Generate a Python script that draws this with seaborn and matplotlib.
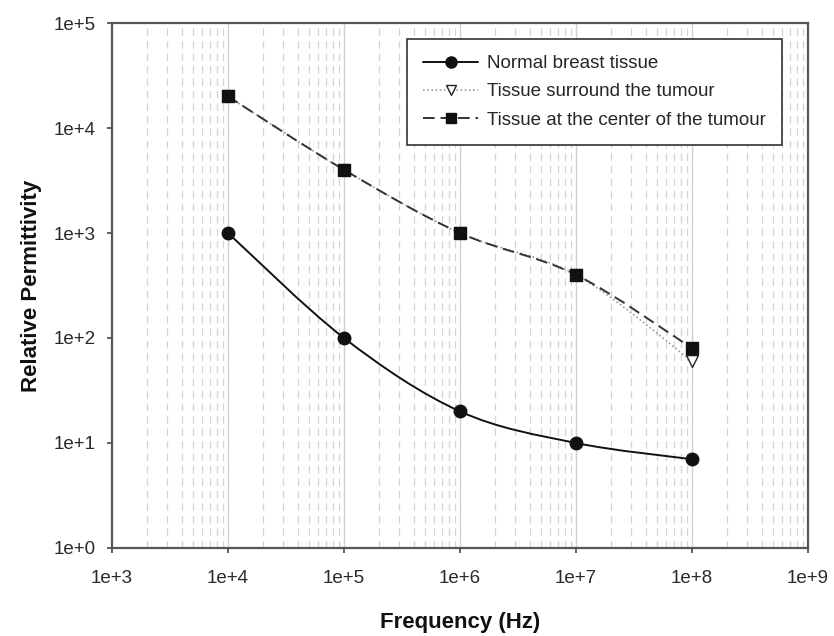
import numpy as np
import pandas as pd
import seaborn as sns
import matplotlib
matplotlib.use("Agg")
import matplotlib.pyplot as plt
from matplotlib.path import Path
from matplotlib.patches import PathPatch
from matplotlib.lines import Line2D
from matplotlib.ticker import FixedLocator

# Measured relative permittivity of breast tissue vs frequency
frequency_hz = [1e4, 1e5, 1e6, 1e7, 1e8]
normal_tissue = [1000, 100, 20, 10, 7]
surround_tumour = [20000, 4000, 1000, 400, 60]
center_tumour = [20000, 4000, 1000, 400, 80]

series_names = ["Normal breast tissue",
                "Tissue surround the tumour",
                "Tissue at the center of the tumour"]
x_ticks = [1e3, 1e4, 1e5, 1e6, 1e7, 1e8, 1e9]
x_tick_labels = ["1e+3", "1e+4", "1e+5", "1e+6", "1e+7", "1e+8", "1e+9"]
y_ticks = [1e0, 1e1, 1e2, 1e3, 1e4, 1e5]
y_tick_labels = ["1e+0", "1e+1", "1e+2", "1e+3", "1e+4", "1e+5"]

sns.set_theme(style="white")
plt.rcParams["font.family"] = ["Liberation Sans", "DejaVu Sans"]

df = pd.DataFrame({
    "Frequency": frequency_hz * 3,
    "Permittivity": normal_tissue + surround_tumour + center_tumour,
    "Series": sum([[n] * len(frequency_hz) for n in series_names], []),
})

styles = {
    series_names[0]: dict(color="#111111", ls="-", lw=1.4, marker="o",
                          mfc="#111111", mec="#111111", ms=9),
    series_names[1]: dict(color="#9a9a9a", ls=(0, (1, 1.5)), lw=1.2, marker="v",
                          mfc="white", mec="#222222", ms=8.5),
    series_names[2]: dict(color="#333333", ls=(0, (6, 3)), lw=1.4, marker="s",
                          mfc="#111111", mec="#111111", ms=8.5),
}

fig = plt.figure(figsize=(8.34, 6.36), dpi=100)
ax = fig.add_axes([0.1343, 0.1384, 0.9688 - 0.1343, 0.9638 - 0.1384])
ax.set_xscale("log")
ax.set_yscale("log")
ax.set_xlim(1e3, 1e9)
ax.set_ylim(1e0, 1e5)

# vertical grid: solid at decades, dashed at intermediate values
for dec in range(3, 9):
    for m in range(2, 10):
        ax.axvline(m * 10 ** dec, color="#d4d4d4", lw=0.9, ls=(0, (6, 4)), zorder=0)
    if dec > 3:
        ax.axvline(10 ** dec, color="#d0d0d0", lw=1.0, zorder=0)


def smooth_path(xs, ys):
    """Catmull-Rom style cubic Bezier through the points in log-log space."""
    lx, ly = np.log10(xs), np.log10(ys)
    n = len(lx)
    verts = [(lx[0], ly[0])]
    codes = [Path.MOVETO]
    for i in range(n - 1):
        p0 = (lx[i - 1], ly[i - 1]) if i > 0 else (lx[i], ly[i])
        p1 = (lx[i], ly[i])
        p2 = (lx[i + 1], ly[i + 1])
        p3 = (lx[i + 2], ly[i + 2]) if i + 2 < n else p2
        c1 = (p1[0] + (p2[0] - p0[0]) / 6, p1[1] + (p2[1] - p0[1]) / 6)
        c2 = (p2[0] - (p3[0] - p1[0]) / 6, p2[1] - (p3[1] - p1[1]) / 6)
        verts += [c1, c2, p2]
        codes += [Path.CURVE4] * 3
    verts = [(10 ** a, 10 ** b) for a, b in verts]
    return Path(verts, codes)


for name in [series_names[1], series_names[2], series_names[0]]:
    sub = df[df["Series"] == name]
    st = styles[name]
    patch = PathPatch(smooth_path(sub["Frequency"].values, sub["Permittivity"].values),
                      facecolor="none", edgecolor=st["color"], lw=st["lw"],
                      linestyle=st["ls"], zorder=2)
    ax.add_patch(patch)

for name in series_names:
    sub = df[df["Series"] == name]
    st = styles[name]
    sns.scatterplot(data=sub, x="Frequency", y="Permittivity", ax=ax,
                    marker=st["marker"], s=st["ms"] ** 2, color=st["mfc"],
                    edgecolor=st["mec"], linewidth=1.0, zorder=3, legend=False)

ax.xaxis.set_major_locator(FixedLocator(x_ticks))
ax.set_xticklabels(x_tick_labels)
ax.yaxis.set_major_locator(FixedLocator(y_ticks))
ax.set_yticklabels(y_tick_labels)
ax.xaxis.set_minor_locator(plt.NullLocator())
ax.yaxis.set_minor_locator(plt.NullLocator())
ax.tick_params(axis="both", which="major", direction="out", length=3.8, width=1.2,
               color="#444444", labelsize=13.5, labelcolor="#2a2a2a",
               bottom=True, left=True, top=False, right=False)
ax.tick_params(axis="x", pad=12)
ax.tick_params(axis="y", pad=8)

for sp in ax.spines.values():
    sp.set_color("#555555")
    sp.set_linewidth(1.6)

ax.set_xlabel("Frequency (Hz)", fontsize=16, fontweight="bold", labelpad=18, color="#111111")
ax.set_ylabel("Relative Permittivity", fontsize=16, fontweight="bold", labelpad=8, color="#111111")

handles = []
for name in series_names:
    st = styles[name]
    handles.append(Line2D([0], [0], color=st["color"], ls=st["ls"], lw=st["lw"],
                          marker=st["marker"], mfc=st["mfc"], mec=st["mec"],
                          ms=st["ms"] - 1))
leg = ax.legend(handles, series_names, loc="upper right",
                bbox_to_anchor=(0.9626, 0.9695), fontsize=13.5, frameon=True,
                fancybox=False, edgecolor="#333333", framealpha=1,
                handlelength=2.9, borderpad=0.85, labelspacing=0.6,
                handletextpad=0.5, borderaxespad=0)
leg.get_frame().set_linewidth(1.2)

fig.savefig("out.png", dpi=100)
